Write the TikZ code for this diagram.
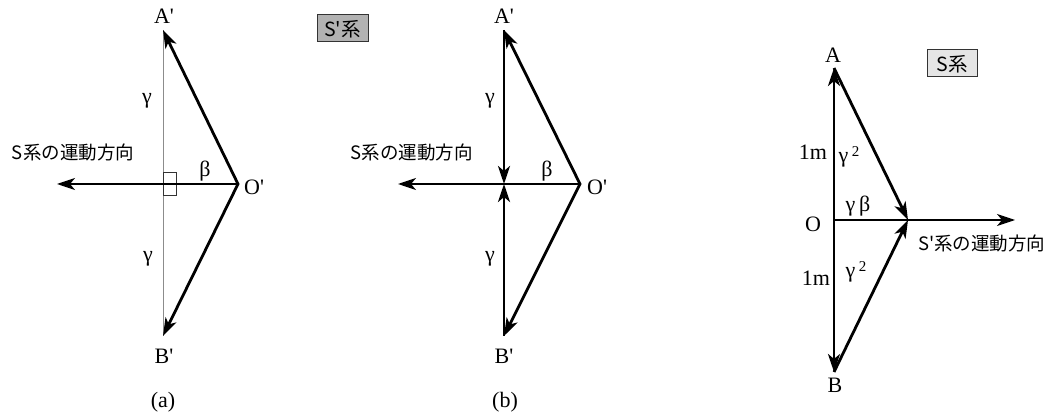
\documentclass[tikz,border=0pt]{standalone}
\usepackage{fontspec}
\newfontfamily\tms{Liberation Serif}
\newfontfamily\jp{Noto Sans CJK JP}
\usetikzlibrary{arrows.meta}
\tikzset{
  heavy/.style={line width=2.8pt},
  thinarrow/.style={line width=1.6pt,-{Stealth[length=18pt,width=12pt,inset=5pt]}},
  guide/.style={draw=gray!90,line width=1pt},
  lbl/.style={inner sep=0pt,font=\tms\fontsize{22}{22}\selectfont},
  jplbl/.style={inner sep=0pt,font=\jp\fontsize{18.5}{19}\selectfont},
  sysbox/.style={draw=black!80,line width=0.8pt,inner sep=1.5pt,font=\jp\fontsize{19.5}{20}\selectfont,minimum height=27pt,text depth=0pt}
}
\begin{document}
\begin{tikzpicture}[x=1pt,y=-1pt,>={Stealth[length=18pt,width=12pt,inset=5pt]}]
\useasboundingbox (0,0) rectangle (1052,419);
% ---------- (a) ----------
\coordinate (aA) at (163,30);
\coordinate (aB) at (163,336);
\coordinate (aO) at (238,184);
\coordinate (aL) at (57,184);
\draw[guide] (aA) -- (aB);
\draw[line width=0.8pt,draw=black!80] (163,172) rectangle (176,195);
\draw[thinarrow] (aO) -- (aL);
\draw[heavy,<->,line join=miter] (aA) -- (aO) -- (aB);
\node[lbl] (aAl) at (164,16) {A'};
\node[lbl] (aBl) at (164,356) {B'};
\node[lbl,anchor=west] (aOl) at (244,187) {O'};
\node[lbl] (ag1) at (147,101) {γ};
\node[lbl] (ag2) at (148,259) {γ};
\node[lbl] (ab) at (205,171) {β};
\node[lbl] (acap) at (163,402) {(a)};
\node[jplbl] (atxt) at (73,152) {S系の運動方向};
\node[sysbox,fill=black!30,minimum width=51pt] (abox) at (342.5,28) {S'系};
% ---------- (b) ----------
\coordinate (bA) at (504,30);
\coordinate (bB) at (504,336);
\coordinate (bO) at (580,184);
\coordinate (bC) at (504,184);
\coordinate (bL) at (398,184);
\draw[thinarrow] (bO) -- (bL);
\draw[heavy,->] (bA) -- (bC);
\draw[heavy,->] (bB) -- (bC);
\draw[heavy,<->,line join=miter] (bA) -- (bO) -- (bB);
\node[lbl] (bAl) at (504,16) {A'};
\node[lbl] (bBl) at (504,356) {B'};
\node[lbl,anchor=west] (bOl) at (587,187) {O'};
\node[lbl] (bg1) at (490,101) {γ};
\node[lbl] (bg2) at (490,259) {γ};
\node[lbl] (bb) at (547,171) {β};
\node[lbl] (bcap) at (505,402) {(b)};
\node[jplbl,anchor=east] (btxt) at (473,152) {S系の運動方向};
% ---------- (c) ----------
\coordinate (cA) at (834,68);
\coordinate (cB) at (834,372);
\coordinate (cO) at (834,220);
\coordinate (cP) at (908,220);
\coordinate (cR) at (1015,220);
\draw[thinarrow] (cO) -- (cR);
\draw[heavy,<->] (cA) -- (cB);
\draw[heavy,->] (cA) -- (cP);
\draw[heavy,->] (cB) -- (cP);
\node[lbl] (cAl) at (833,55) {A};
\node[lbl] (cBl) at (835,385) {B};
\node[lbl] (cOl) at (813,224) {O};
\node[lbl] (cm1) at (813,152) {1m};
\node[lbl] (cm2) at (816,278) {1m};
\node[lbl] (cg1) at (849,157) {γ\,\raisebox{6pt}{\fontsize{15}{15}\selectfont 2}};
\node[lbl] (cg2) at (856,272) {γ\,\raisebox{6pt}{\fontsize{15}{15}\selectfont 2}};
\node[lbl] (cgb) at (858,206) {γ\,β};
\node[jplbl,anchor=west] (ctxt) at (918,243) {S'系の運動方向};
\node[sysbox,fill=black!10,minimum width=50pt] (cbox) at (952,63) {S系};
\end{tikzpicture}
\end{document}
